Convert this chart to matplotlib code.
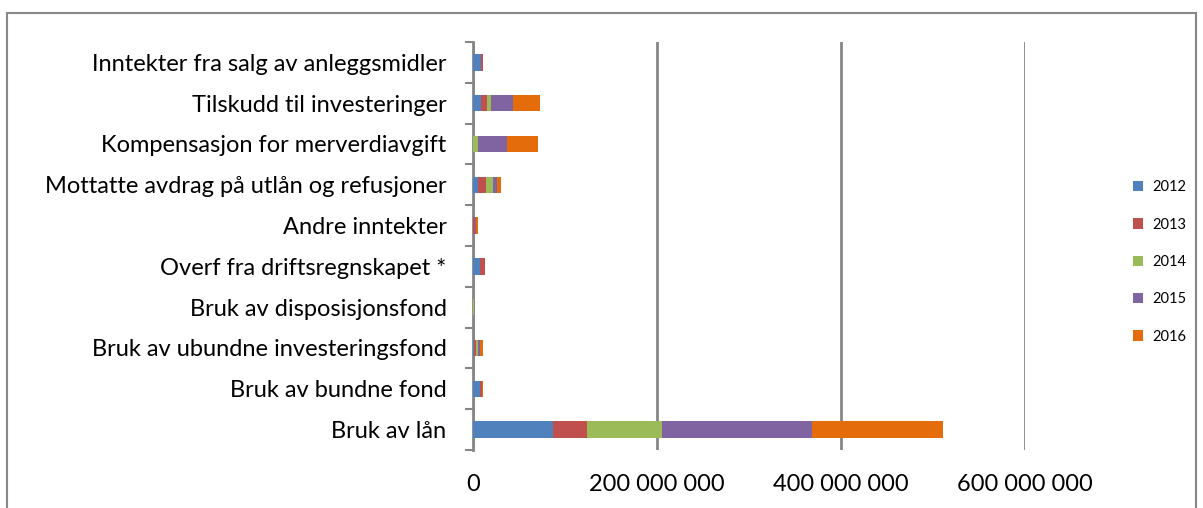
import matplotlib.pyplot as plt
from matplotlib.patches import Rectangle
from matplotlib.ticker import FuncFormatter, FixedLocator
import numpy as np

plt.rcParams['font.family'] = ['Lato', 'DejaVu Sans']

categories = ['Inntekter fra salg av anleggsmidler',
              'Tilskudd til investeringer',
              'Kompensasjon for merverdiavgift',
              'Mottatte avdrag på utlån og refusjoner',
              'Andre inntekter',
              'Overf fra driftsregnskapet *',
              'Bruk av disposisjonsfond',
              'Bruk av ubundne investeringsfond',
              'Bruk av bundne fond',
              'Bruk av lån']
years = ['2012', '2013', '2014', '2015', '2016']
# values in millions NOK, one list per year (same order as categories)
v2012 = [9.0, 8.3, 0.0, 5.4, 0.0, 7.6, 0.0, 1.5, 7.5, 87.0]
v2013 = [1.5, 6.9, 0.0, 8.7, 2.0, 5.8, 0.0, 1.5, 2.0, 37.0]
v2014 = [0.0, 4.7, 5.8, 7.6, 0.3, 0.0, 0.8, 2.5, 0.0, 81.0]
v2015 = [0.0, 23.6, 31.5, 4.3, 1.0, 0.0, 0.0, 2.5, 0.0, 163.0]
v2016 = [0.0, 29.7, 33.0, 4.0, 2.0, 0.0, 0.0, 3.0, 1.5, 143.0]
colors = ['#4F81BD', '#C0504D', '#9BBB59', '#8064A2', '#E46C0A']

series = [v2012, v2013, v2014, v2015, v2016]

fig = plt.figure(figsize=(12.03, 5.08), dpi=100)
ax = fig.add_axes([473/1203, 1-450/508, 552/1203, 408/508])

y = np.arange(len(categories))[::-1]
left = np.zeros(len(categories))
for yr, vals, c in zip(years, series, colors):
    vals = np.array(vals) * 1e6
    ax.barh(y, vals, left=left, height=0.4, color=c, label=yr, zorder=3)
    left += vals

ax.set_xlim(0, 600e6)
ax.set_ylim(-0.5, len(categories) - 0.5)
ax.set_xticks([0, 200e6, 400e6, 600e6])
ax.xaxis.set_major_formatter(FuncFormatter(lambda v, p: f'{int(v):,}'.replace(',', ' ')))
ax.grid(axis='x', color='#868686', lw=2, zorder=0)
ax.set_yticks(y)
ax.set_yticklabels(categories, fontsize=17)
ax.yaxis.set_minor_locator(FixedLocator(np.arange(-0.5, len(categories), 1)))
ax.tick_params(axis='y', which='major', length=0, pad=19)
ax.tick_params(axis='y', which='minor', length=6, width=1.5, color='#868686')
ax.tick_params(axis='x', length=0, labelsize=17, pad=17)
for s in ['top', 'right', 'bottom']:
    ax.spines[s].set_visible(False)
ax.spines['left'].set_color('#868686')
ax.spines['left'].set_linewidth(2)

ax.legend(loc='center left', bbox_to_anchor=(1120/1203, 1-262/508),
          bbox_transform=fig.transFigure, frameon=False, fontsize=10.5,
          handlelength=0.7, handleheight=0.7, labelspacing=1.6, handletextpad=0.6)

fig.patches.append(Rectangle((7/1203, -0.1), 1189/1203, 1.1 - 13/508,
                             transform=fig.transFigure, fill=False,
                             edgecolor='#888888', lw=1.5))

fig.savefig('out.png', dpi=100)
